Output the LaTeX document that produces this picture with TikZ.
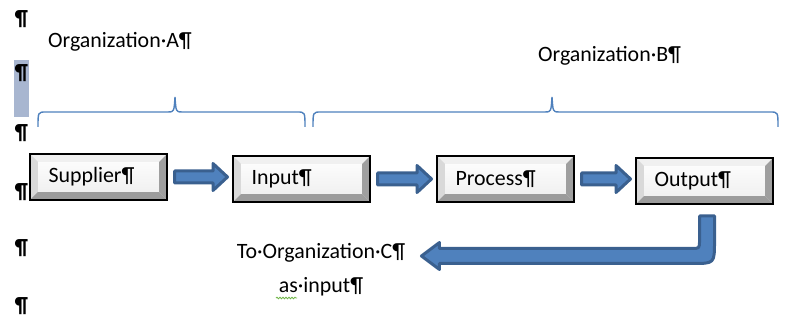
\documentclass[tikz,border=0pt]{standalone}
\usepackage{fontspec}
\setmainfont{Carlito}
\usepackage{tikz}
\usetikzlibrary{arrows.meta, positioning, calc, decorations.pathmorphing}
\definecolor{cArrow}{RGB}{79,129,189}
\definecolor{cArrowLine}{RGB}{58,96,143}
\definecolor{cBrace}{RGB}{79,129,189}
\definecolor{cMark}{RGB}{168,182,208}
\definecolor{cSquig}{RGB}{110,180,70}

\newcommand{\wordsize}{\fontsize{21.9}{26}\selectfont}
% block arrow between two boxes
\newcommand{\flowarrow}[2]{%
  \path[flowarr] let \p1=(#1.east), \p2=(#2.west) in
    (\x1+6.5pt,\y1+6pt) -- (\x2-19pt,\y1+6pt) -- (\x2-19pt,\y1+13.5pt)
    -- (\x2-4.5pt,\y1) -- (\x2-19pt,\y1-13.5pt) -- (\x2-19pt,\y1-6pt)
    -- (\x1+6.5pt,\y1-6pt) -- cycle;}

\begin{document}
\begin{tikzpicture}[x=1pt, y=1pt,
      btn/.style={draw=black, line width=1.8pt, font=\wordsize,
                  text width=100pt, inner xsep=18.6pt, minimum height=46.2pt, align=left,
                  path picture={
                    \coordinate (bnw) at (path picture bounding box.north west);
                    \coordinate (bne) at (path picture bounding box.north east);
                    \coordinate (bsw) at (path picture bounding box.south west);
                    \coordinate (bse) at (path picture bounding box.south east);
                    \shade[top color=white, bottom color=gray!14] (bsw) rectangle (bne);
                    \fill[gray!12] (bnw) -- (bne) -- ([xshift=-8pt,yshift=-8pt]bne) -- ([xshift=8pt,yshift=-8pt]bnw) -- cycle;
                    \fill[gray!30] (bnw) -- (bsw) -- ([xshift=8pt,yshift=8pt]bsw) -- ([xshift=8pt,yshift=-8pt]bnw) -- cycle;
                    \fill[gray!80!black!65] (bsw) -- (bse) -- ([xshift=-8pt,yshift=8pt]bse) -- ([xshift=8pt,yshift=8pt]bsw) -- cycle;
                    \fill[gray!75] (bne) -- (bse) -- ([xshift=-8pt,yshift=8pt]bse) -- ([xshift=-8pt,yshift=-8pt]bne) -- cycle;
                  }},
      flowarr/.style={fill=cArrow, draw=cArrowLine, line width=3pt, line join=round},
      orgbrace/.style={draw=cBrace, line width=1.4pt},
      pilcrow/.style={font=\bfseries\wordsize, inner sep=0pt},
      lbl/.style={font=\wordsize, inner sep=0pt}]
    \useasboundingbox (0,0) rectangle (810,329);

    % left margin marks
    \fill[cMark] (14,212) rectangle (29,269);
    \foreach \y in {310,256,196,137,81,23}
      \node[pilcrow] (p\y) at (21.5,\y) {¶};

    % organisations
    \node[lbl, anchor=base west] (orgA) at (48,281) {Organization·A¶};
    \node[lbl, anchor=base west] (orgB) at (538,267) {Organization·B¶};
    \draw[orgbrace] (38,202) .. controls (38,217) .. (46,217) -- (168,217)
      .. controls (174,217) .. (175,232) .. controls (176,217) .. (182,217)
      -- (297,217) .. controls (305,217) .. (305,202);
    \draw[orgbrace] (313,202) .. controls (313,217) .. (321,217) -- (545,217)
      .. controls (551,217) .. (552,232) .. controls (553,217) .. (559,217)
      -- (770,217) .. controls (778,217) .. (778,202);

    % chain
    \node[btn] (sup) at (98.5,152) {Supplier¶};
    \node[btn, right=64pt of sup, yshift=-2pt] (inp) {Input¶};
    \node[btn, right=65pt of inp] (pro) {Process¶};
    \node[btn, right=60pt of pro, yshift=-2pt] (out) {Output¶};
    \flowarrow{sup}{inp}
    \flowarrow{inp}{pro}
    \flowarrow{pro}{out}

    % back to organisation C
    \node[lbl, inner sep=2pt, align=center, font=\fontsize{21.9}{34}\selectfont]
      (toC) at (321,59) {To·Organization·C¶\\as·input¶};
    \path[flowarr] let \p1=(out.south), \p2=(toC.east),
        \n1={\x1+2.5pt}, \n2={\y1-51pt}, \n3={\x2+14pt} in
      (\n3,\n2) -- (\n3+18,\n2+13.5) -- (\n3+18,\n2+7.5) -- (\n1-15.5,\n2+7.5)
      .. controls (\n1-7.5,\n2+7.5) .. (\n1-7.5,\n2+15.5) -- (\n1-7.5,\y1-11pt)
      -- (\n1+7.5,\y1-11pt) -- (\n1+7.5,\n2+14.5)
      .. controls (\n1+7.5,\n2-7.5) .. (\n1-14.5,\n2-7.5)
      -- (\n3+18,\n2-7.5) -- (\n3+18,\n2-13.5) -- cycle;
    \draw[cSquig, line width=0.8pt, decorate,
          decoration={snake, segment length=3pt, amplitude=0.8pt}] (276,31) -- (297,31);
  \end{tikzpicture}
\end{document}
